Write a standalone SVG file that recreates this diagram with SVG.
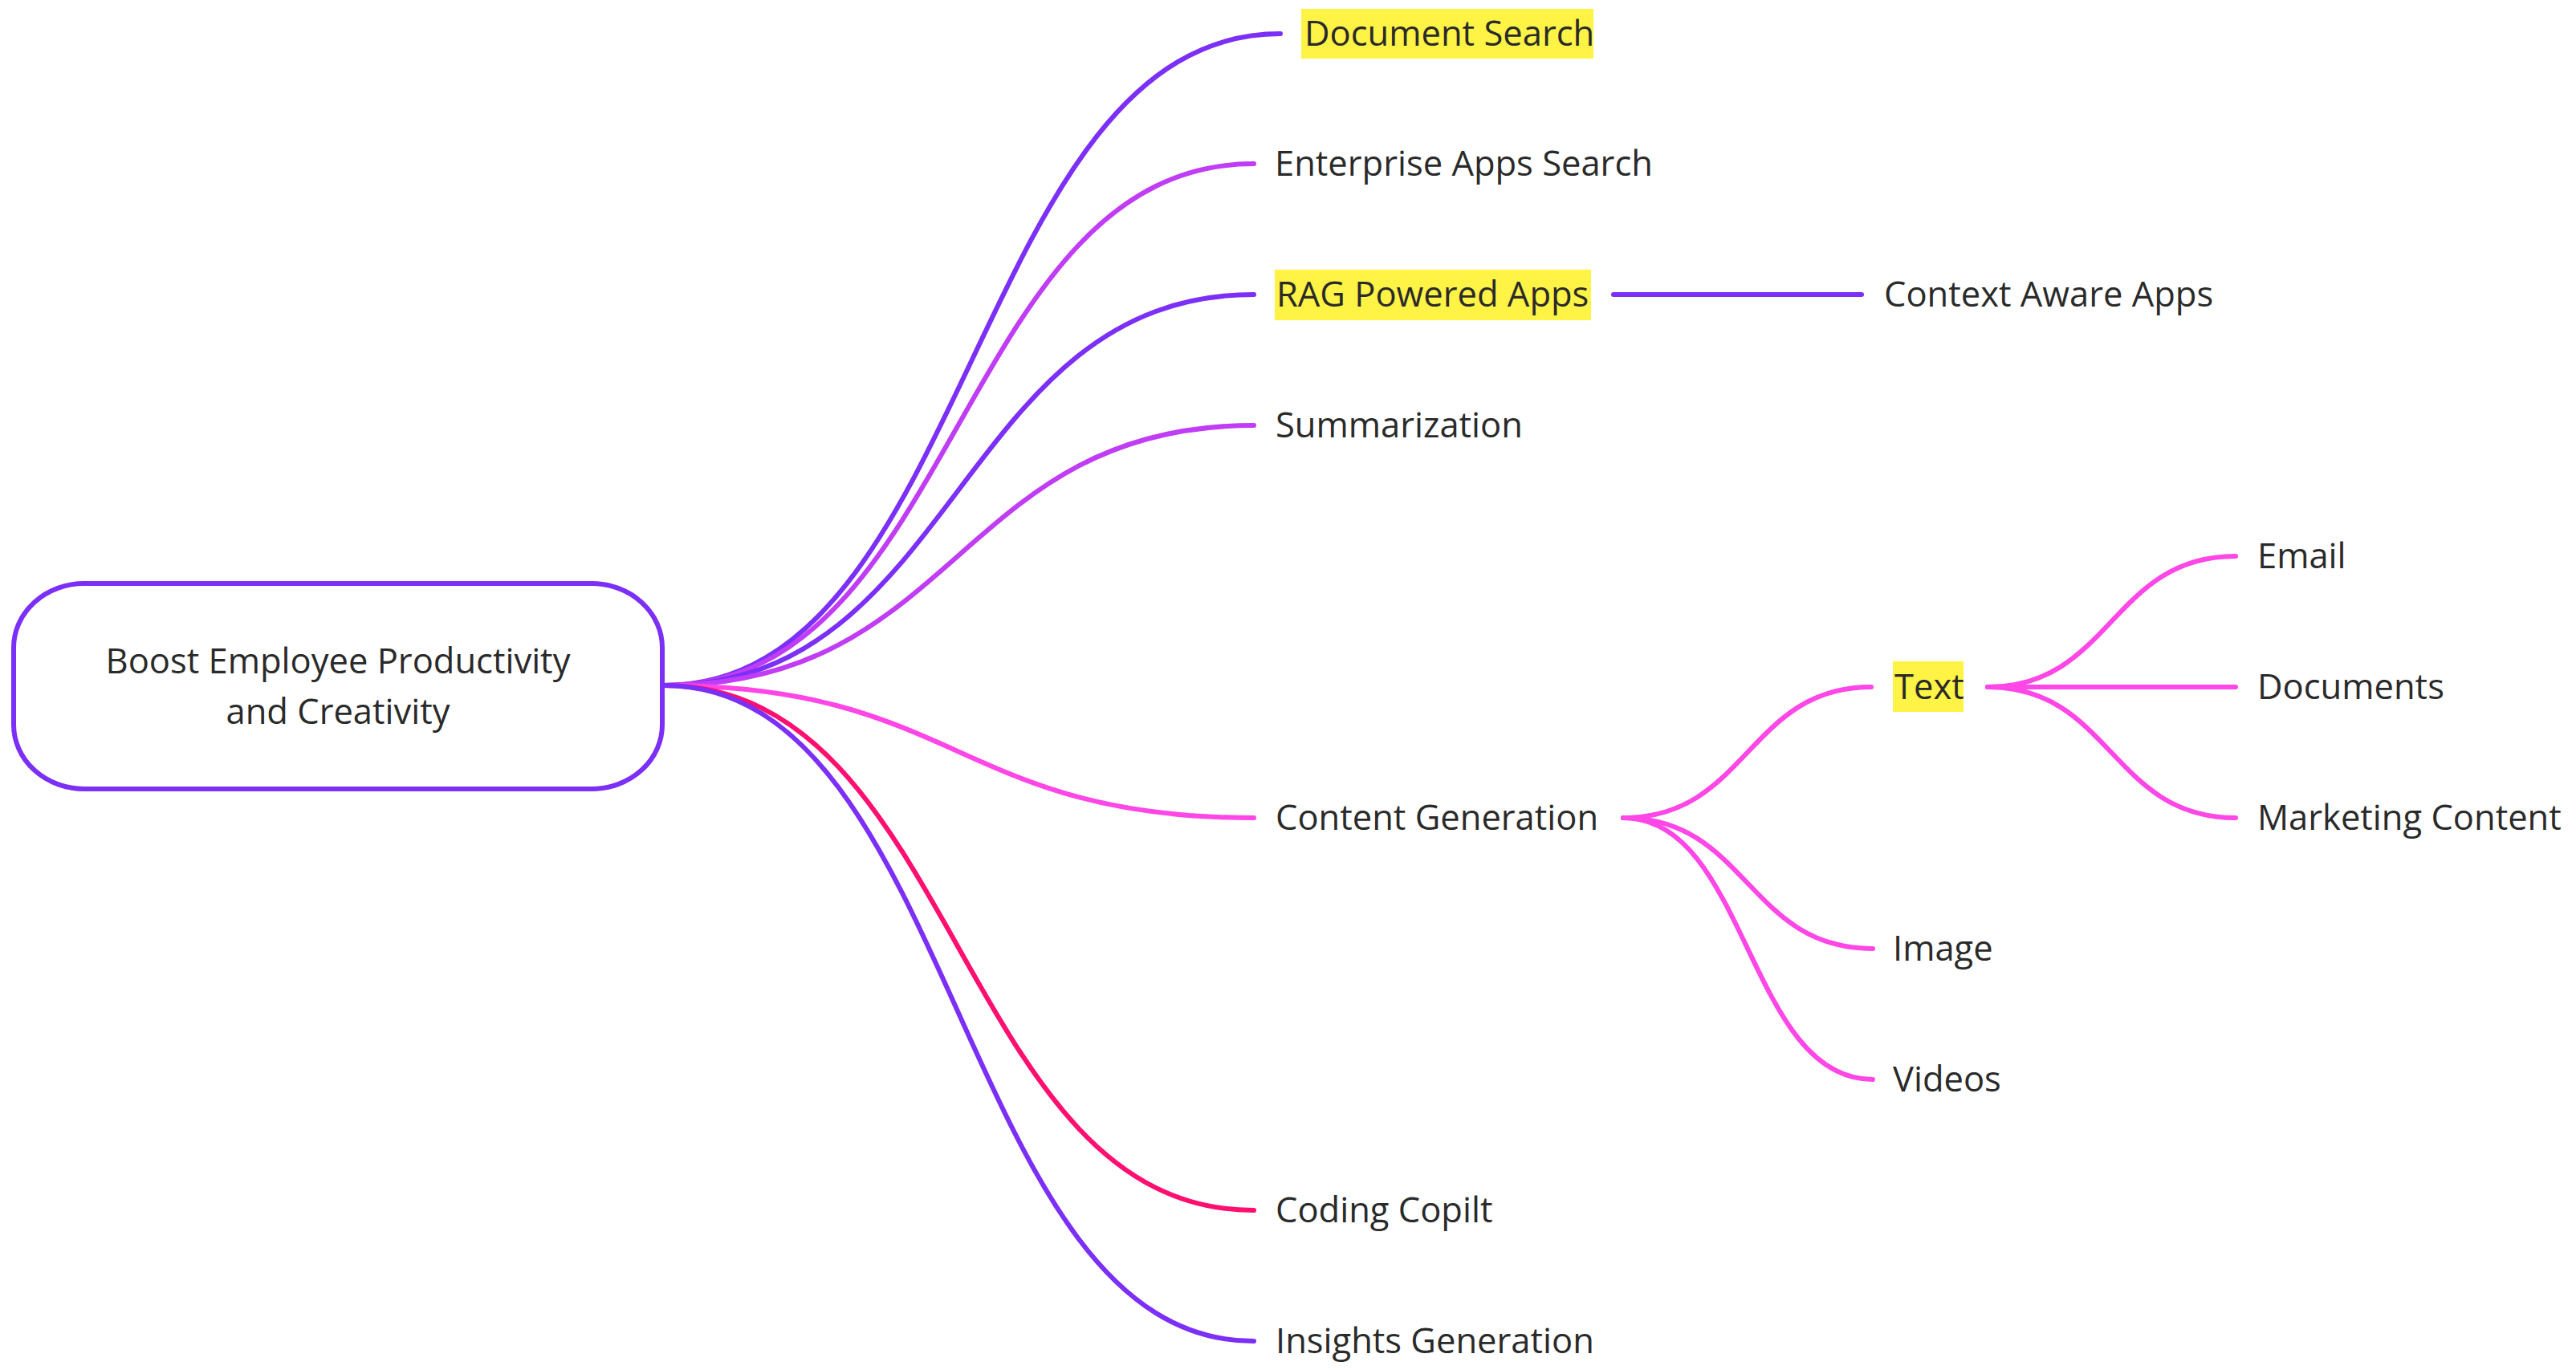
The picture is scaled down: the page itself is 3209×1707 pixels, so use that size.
<svg xmlns="http://www.w3.org/2000/svg" width="3209" height="1707" viewBox="0 0 3209 1707">
<style>
text{font-family:"Open Sans","Noto Sans","Liberation Sans",sans-serif;font-size:43.5px;fill:#2a2a2a}
.l{fill:none;stroke-width:6;stroke-linecap:round}
.p{stroke:#7B2FF7}.v{stroke:#C03CF5}.k{stroke:#FF46E6}.r{stroke:#FF0F70}
.hl{fill:#FFF346}
</style>
<rect width="3209" height="1707" fill="#ffffff"/>
<g id="connectors">
<path class="l p" d="M827,854 C1211,854 1211,42 1595,42"/>
<path class="l v" d="M827,854 C1194,854 1194,204 1562,204"/>
<path class="l p" d="M827,854 C1194,854 1194,367 1562,367"/>
<path class="l v" d="M827,854 C1194,854 1194,530 1562,530"/>
<path class="l k" d="M827,854 C1194,854 1194,1019 1562,1019"/>
<path class="l r" d="M827,854 C1194,854 1194,1508 1562,1508"/>
<path class="l p" d="M827,854 C1194,854 1194,1671 1562,1671"/>
<path class="l p" d="M2010,367 L2319,367"/>
<path class="l k" d="M2022,1019 C2177,1019 2177,856 2331,856"/>
<path class="l k" d="M2022,1019 C2177,1019 2177,1182 2333,1182"/>
<path class="l k" d="M2022,1019 C2177,1019 2177,1345 2333,1345"/>
<path class="l k" d="M2476,856 C2630,856 2630,693 2785,693"/>
<path class="l k" d="M2476,856 L2785,856"/>
<path class="l k" d="M2476,856 C2630,856 2630,1019 2785,1019"/>
</g>
<g id="root">
<rect x="17" y="727" width="808" height="256" rx="88" ry="80" fill="#ffffff" stroke="#7B2FF7" stroke-width="6"/>
<text x="421" y="839" text-anchor="middle">Boost Employee Productivity</text>
<text x="421" y="902" text-anchor="middle">and Creativity</text>
</g>
<g id="document-search">
<rect class="hl" x="1621" y="11" width="364" height="62"/>
<text x="1625" y="57">Document Search</text>
</g>
<g id="enterprise-apps-search"><text x="1588" y="219">Enterprise Apps Search</text></g>
<g id="rag-powered-apps">
<rect class="hl" x="1588" y="336" width="394" height="63"/>
<text x="1590" y="382">RAG Powered Apps</text>
</g>
<g id="context-aware-apps"><text x="2347" y="382">Context Aware Apps</text></g>
<g id="summarization"><text x="1589" y="545">Summarization</text></g>
<g id="content-generation"><text x="1589" y="1034">Content Generation</text></g>
<g id="text-node">
<rect class="hl" x="2358" y="824" width="88" height="63"/>
<text x="2360" y="871">Text</text>
</g>
<g id="email"><text x="2812" y="708">Email</text></g>
<g id="documents"><text x="2812" y="871">Documents</text></g>
<g id="marketing-content"><text x="2812" y="1034">Marketing Content</text></g>
<g id="image"><text x="2358" y="1197">Image</text></g>
<g id="videos"><text x="2358" y="1360">Videos</text></g>
<g id="coding-copilt"><text x="1589" y="1523">Coding Copilt</text></g>
<g id="insights-generation"><text x="1589" y="1686">Insights Generation</text></g>
</svg>
